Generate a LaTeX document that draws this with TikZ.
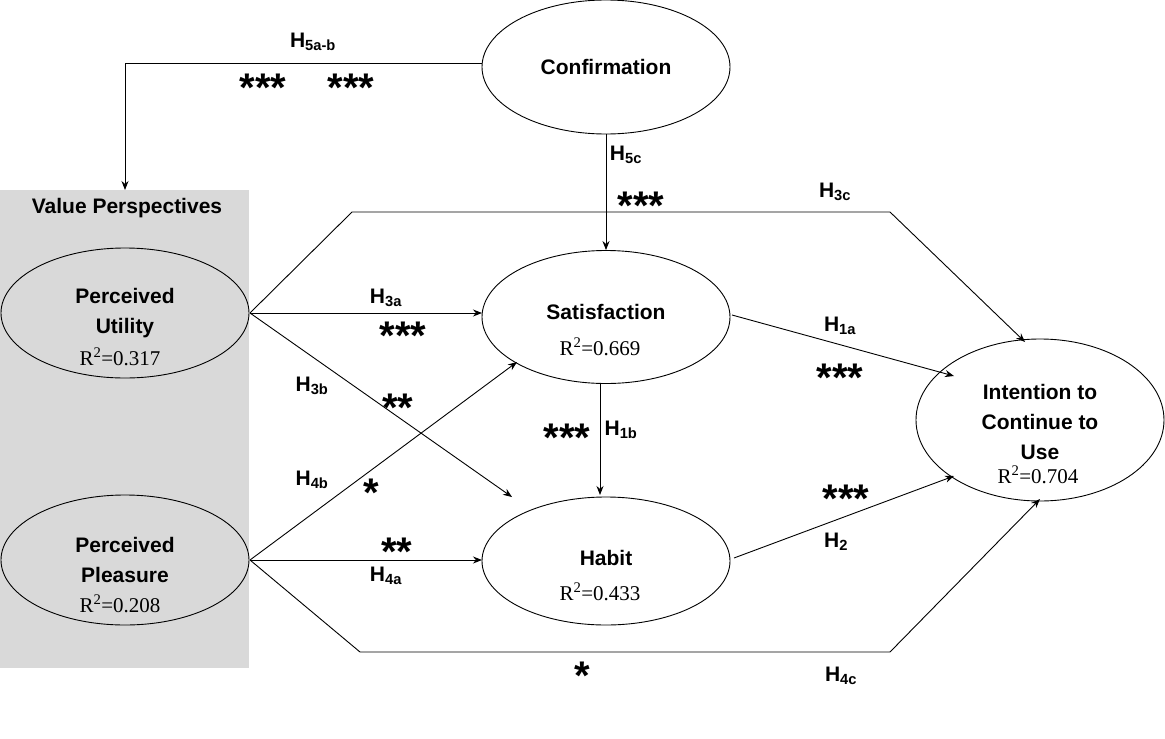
\documentclass[tikz,border=0pt]{standalone}
\usepackage{fontspec}
\setmainfont{Liberation Sans}
\newfontfamily\rfont{Liberation Serif}
\usetikzlibrary{arrows.meta,shapes.geometric}
\begin{document}
\begin{tikzpicture}[x=1pt,y=-1pt,
  ell/.style={draw,ellipse,line width=0.9pt,inner sep=0pt},
  lab/.style={font=\fontsize{21}{30}\selectfont\bfseries},
  star/.style={font=\fontsize{40}{40}\selectfont\bfseries},
  rsq/.style={font=\rfont\fontsize{21}{22}\selectfont},
  con/.style={line width=0.9pt},
  arr/.style={con,-{Stealth[length=9pt,width=7pt]}}]
\useasboundingbox (0,0) rectangle (1165,739);
\fill[black!15] (0,190) rectangle (249,668);
\node[lab] (vp) at (127,208) {Value Perspectives};
\node[ell,minimum width=248pt,minimum height=130pt] (pu) at (125,313) {};
\node[ell,minimum width=248pt,minimum height=130pt] (pp) at (125,560) {};
\node[ell,minimum width=248pt,minimum height=134pt] (cf) at (606,67) {};
\node[ell,minimum width=248pt,minimum height=133pt] (sa) at (606,317) {};
\node[ell,minimum width=248pt,minimum height=128pt] (ha) at (606,561) {};
\node[ell,minimum width=248pt,minimum height=162pt] (in) at (1040,420) {};
\node[lab,align=center] (put) at (125,313) {Perceived\\Utility};
\node[rsq] (pur) at (120,357) {R\textsuperscript{2}=0.317};
\node[lab,align=center] (ppt) at (125,560) {Perceived\\Pleasure};
\node[rsq] (ppr) at (120,604) {R\textsuperscript{2}=0.208};
\node[lab] (cft) at (606,67) {Confirmation};
\node[lab] (sat) at (606,312) {Satisfaction};
\node[rsq] (sar) at (600,347) {R\textsuperscript{2}=0.669};
\node[lab] (hat) at (606,558) {Habit};
\node[rsq] (har) at (600,592) {R\textsuperscript{2}=0.433};
\node[lab,align=center] (int) at (1040,422) {Intention to\\Continue to\\Use};
\node[rsq] (inr) at (1038,475) {R\textsuperscript{2}=0.704};
% connectors
\coordinate (c1) at (125,63);
\draw[arr] (cf.west |- c1) -- (c1) -- (125,190) coordinate (c2);
\draw[arr] (cf.south) -- (sa.north);
\coordinate (pue) at (250,313);
\coordinate (ppe) at (250,560);
\draw[arr] (pue) -- (482,313);
\draw[con] (pue) -- (352,212) coordinate (k1) -- (890,212) coordinate (k2);
\draw[arr] (k2) -- (1025,342);
\draw[arr] (pue) -- (512,497);
\draw[arr] (ppe) -- (517,362);
\draw[arr] (ppe) -- (482,560);
\draw[con] (ppe) -- (360,652) coordinate (k3) -- (890,652) coordinate (k4);
\draw[arr] (k4) -- (1040,499);
\draw[arr] (732,315) -- (954,376);
\draw[arr] (600,383) -- (600,495);
\draw[arr] (734,558) -- (954,476);
% labels
\node[lab] at (313,42) {H\textsubscript{5a-b}};
\node[star] at (263,88) {***};
\node[star] at (351,88) {***};
\node[lab] at (626,155) {H\textsubscript{5c}};
\node[star] at (641,206) {***};
\node[lab] at (835,192) {H\textsubscript{3c}};
\node[lab] at (386,298) {H\textsubscript{3a}};
\node[star] at (403,336) {***};
\node[lab] at (840,326) {H\textsubscript{1a}};
\node[star] at (840,378) {***};
\node[lab] at (312,386) {H\textsubscript{3b}};
\node[star] at (398,408) {**};
\node[star] at (567,438) {***};
\node[lab] at (621,430) {H\textsubscript{1b}};
\node[lab] at (312,480) {H\textsubscript{4b}};
\node[star] at (371,493) {*};
\node[star] at (397,552) {**};
\node[lab] at (386,576) {H\textsubscript{4a}};
\node[star] at (846,499) {***};
\node[lab] at (836,542) {H\textsubscript{2}};
\node[star] at (582,676) {*};
\node[lab] at (841,676) {H\textsubscript{4c}};
\end{tikzpicture}
\end{document}
